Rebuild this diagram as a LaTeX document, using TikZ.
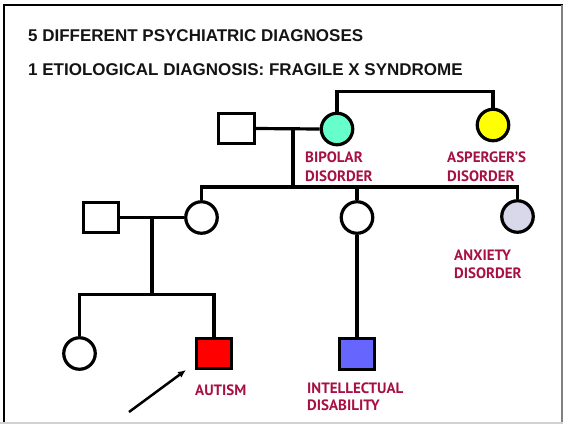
\documentclass[tikz,border=0pt]{standalone}
\usepackage{fontspec}
\setmainfont{PT Sans}
\newfontfamily\titlefont{Liberation Sans}
\usetikzlibrary{arrows.meta}
\definecolor{lbl}{RGB}{166,16,68}
\definecolor{tealc}{RGB}{102,255,204}
\definecolor{yelc}{RGB}{255,255,0}
\definecolor{lavc}{RGB}{216,216,234}
\definecolor{bluc}{RGB}{102,102,255}
\definecolor{redc}{RGB}{255,0,0}
\definecolor{ttl}{RGB}{20,20,20}
\begin{document}
\begin{tikzpicture}[x=1pt,y=-1pt,
  male/.style={draw, line width=3.2pt, rectangle, minimum width=35.5pt, minimum height=30.5pt, inner sep=0pt},
  female/.style={draw, line width=3.2pt, circle, minimum size=31.5pt, inner sep=0pt},
  ln/.style={line width=3.2pt},
  lab/.style={text=lbl, font=\bfseries\fontsize{15}{16}\selectfont, inner sep=0pt, anchor=base west},
  ttlstyle/.style={text=ttl, font=\titlefont\bfseries\fontsize{17}{18}\selectfont, inner sep=0pt, anchor=base west}]
\useasboundingbox (0,0) rectangle (563,424);
% frame
\draw[line width=2pt] (3.7,424) -- (3.7,5) -- (563,5);
\draw[line width=1.5pt, gray] (562.2,5) -- (562.2,424);
\draw[line width=1.5pt, black!18] (0,423) -- (563,423);
% titles
\node[ttlstyle] (t1) at (28,41) {5 DIFFERENT PSYCHIATRIC DIAGNOSES};
\node[ttlstyle] (t2) at (28,75) {1 ETIOLOGICAL DIAGNOSIS: FRAGILE X SYNDROME};
% generation I
\node[male] (gf) at (236.5,128.5) {};
\node[female, fill=tealc] (gm) at (337,129) {};
\node[female, fill=yelc] (ga) at (493,125) {};
\draw[ln] (gf.east) -- (gm.west);
\draw[ln] (gm.north) -- ++(0,-20) -| (ga.north);
\coordinate (m1) at (293,128.5);
\coordinate (s1) at (293,187);
\draw[ln] (m1) -- (s1);
% generation II
\node[male] (f2) at (101,217.5) {};
\node[female] (c2) at (201.5,217.5) {};
\node[female] (c3) at (357,217.5) {};
\node[female, fill=lavc] (c4) at (517.5,216.5) {};
\draw[ln] (c2.north) |- (s1) -| (c4.north);
\draw[ln] (c3.north) -- (c3.north |- s1);
\draw[ln] (f2.east) -- (c2.west);
\coordinate (m2) at (152,217.5);
\coordinate (s2) at (152,294.5);
\draw[ln] (m2) -- (s2);
% generation III
\node[female] (d1) at (79.5,353.5) {};
\node[male, fill=redc] (d2) at (214,353.5) {};
\node[male, fill=bluc] (d3) at (357,354) {};
\draw[ln] (d1.north) |- (s2) -| (d2.north);
\draw[ln] (c3.south) -- (d3.north);
% proband arrow
\coordinate (ar0) at (129,412);
\coordinate (ar1) at (186,370);
\draw[line width=2.5pt, -{Latex[length=8pt,width=7pt]}] (ar0) -- (ar1);
% labels
\node[lab] (l1a) at (305,162) {BIPOLAR};
\node[lab] (l1b) at (305,181) {DISORDER};
\node[lab] (l2a) at (447,162) {ASPERGER’S};
\node[lab] (l2b) at (447,181) {DISORDER};
\node[lab] (l3a) at (454,260) {ANXIETY};
\node[lab] (l3b) at (454,278.5) {DISORDER};
\node[lab] (l4) at (195,395) {AUTISM};
\node[lab] (l5a) at (307,393.5) {INTELLECTUAL};
\node[lab] (l5b) at (307,410) {DISABILITY};
\end{tikzpicture}
\end{document}
